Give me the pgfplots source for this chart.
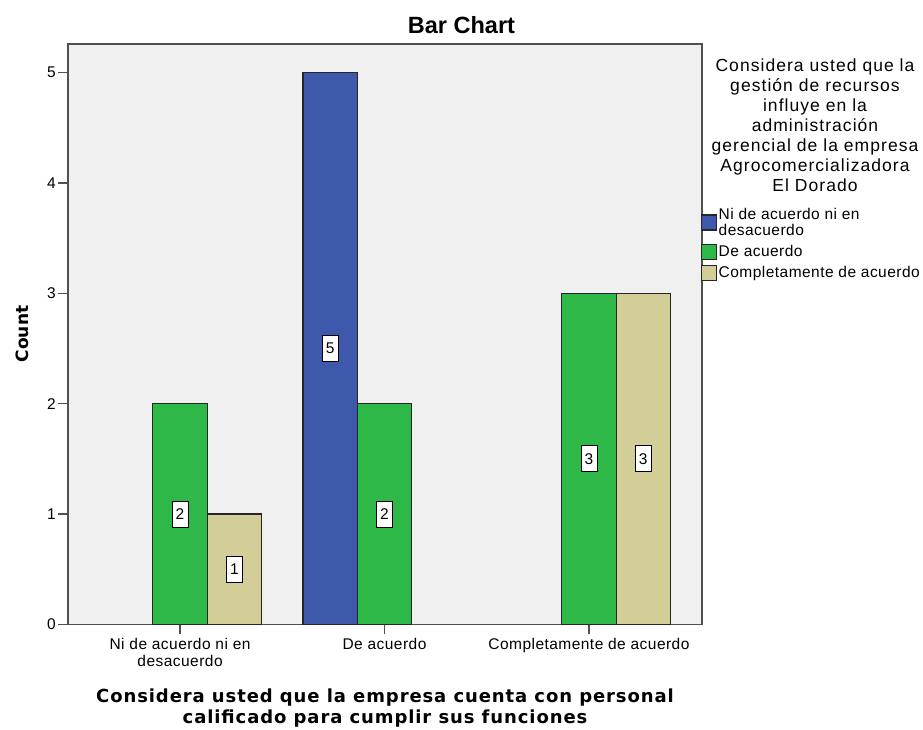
\documentclass[border=0pt]{standalone}
\usepackage{fontspec}
\setmainfont{Liberation Sans}
\newfontfamily\dejavu{DejaVu Sans}
\usepackage{pgfplots}
\pgfplotsset{compat=1.18}
\definecolor{cblue}{HTML}{3E58AC}
\definecolor{cgreen}{HTML}{2EB848}
\definecolor{ctan}{HTML}{D3CE97}
\definecolor{bgc}{HTML}{F0F0F0}
\definecolor{frame}{HTML}{505050}
\begin{document}
\begin{tikzpicture}[x=1pt,y=1pt]
\path[use as bounding box] (0,0) rectangle (923,730);
\begin{axis}[
  at={(68pt,105.7pt)}, anchor=south west,
  scale only axis, width=634pt, height=580.3pt,
  xmin=-0.548, xmax=2.553, ymin=0, ymax=5.26,
  ybar, bar width=54.3pt,
  axis background/.style={fill=bgc},
  axis line style={draw=frame, line width=1.3pt},
  xtick={0,1,2},
  xticklabels={{Ni de acuerdo ni en\\desacuerdo},{De acuerdo},{Completamente de acuerdo}},
  ytick={0,1,2,3,4,5},
  xtick pos=bottom, ytick pos=left,
  tick align=outside, major tick length=10pt,
  tick style={draw=frame, line width=1.2pt},
  /pgf/number format/assume math mode=true,
  tick label style={font=\fontsize{15.5}{16.5}\selectfont\addfontfeatures{LetterSpace=3}},
  xticklabel style={align=center, inner sep=4pt},
  yticklabel style={inner sep=2pt},
  every axis plot/.append style={draw=black!85, line width=1.1pt},
  visualization depends on=y \as \rawy,
  nodes near coords,
  every node near coord/.append style={anchor=center, fill=white, draw=black, line width=0.8pt,
     inner sep=0pt, minimum width=16pt, minimum height=26pt,
     font=\fontsize{15.5}{16.5}\selectfont,
     shift={(axis direction cs:0,-\rawy/2)}},
  legend style={at={(rel axis cs:0.9975,0.721)}, anchor=north west, draw=none, fill=none,
     font=\fontsize{15.5}{16}\selectfont\addfontfeatures{LetterSpace=3},
     cells={anchor=west, align=left}, inner sep=0pt, row sep=4.5pt},
  legend cell align=left,
  legend image code/.code={\draw[#1, line width=1.1pt] (0pt,-7.5pt) rectangle (15pt,7.5pt);},
]
\addplot[fill=cblue, bar shift=-54.3pt] coordinates {(1,5)};
\addlegendentry{Ni de acuerdo ni en\\desacuerdo}
\addplot[fill=cgreen, bar shift=0pt] coordinates {(0,2) (1,2) (2,3)};
\addlegendentry{De acuerdo}
\addplot[fill=ctan, bar shift=54.3pt] coordinates {(0,1) (2,3)};
\addlegendentry{Completamente de acuerdo}
\end{axis}
\node[font=\fontsize{23.5}{25}\selectfont\bfseries] at (461.5,705) {Bar Chart};
\node[rotate=90, font=\dejavu\fontsize{17}{19}\selectfont\bfseries] at (22,396) {Count};
\node[anchor=north, align=center, font=\dejavu\fontsize{18}{21}\selectfont\bfseries\addfontfeatures{LetterSpace=5}] at (385,45) {Considera usted que la empresa cuenta con personal\\calificado para cumplir sus funciones};
\node[anchor=north, align=center, font=\fontsize{17.5}{20}\selectfont\addfontfeatures{LetterSpace=6}] at (815,675) {Considera usted que la\\gestión de recursos\\influye en la\\administración\\gerencial de la empresa\\Agrocomercializadora\\El Dorado};
\end{tikzpicture}
\end{document}
